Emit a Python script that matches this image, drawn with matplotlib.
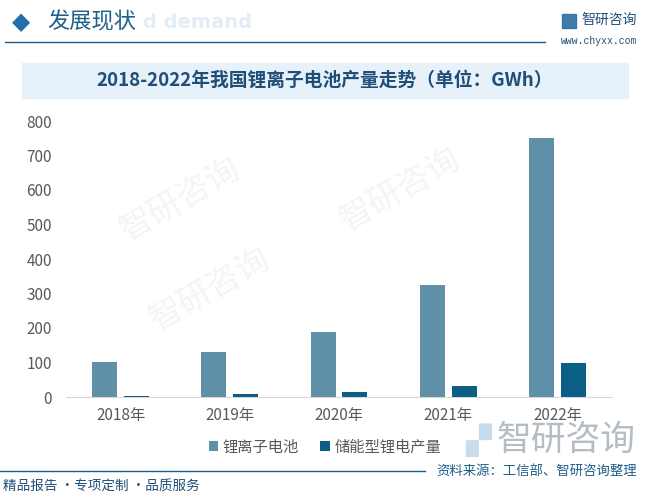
import matplotlib.pyplot as plt
from matplotlib.patches import Rectangle
import numpy as np

plt.rcParams['font.family'] = ['Noto Sans CJK SC', 'DejaVu Sans']

W, H = 646, 499

years = ['2018年', '2019年', '2020年', '2021年', '2022年']
li_ion = [102, 131.7, 188.5, 324, 750]
storage = [3, 9, 14, 32, 100]
series_names = ['锂离子电池', '储能型锂电产量']
yticks = [0, 100, 200, 300, 400, 500, 600, 700, 800]

LI_COLOR = '#5F90A8'
ST_COLOR = '#0B5E85'
DARK = '#1F4E79'


def fx(x):
    return x / W


def fy(y):
    return 1 - y / H


fig = plt.figure(figsize=(W / 100, H / 100), dpi=100)
fig.patch.set_facecolor('white')

# faint watermarks in empty areas
for (wx, wy) in [(180, 200), (400, 190), (210, 290)]:
    fig.text(fx(wx), fy(wy), '智研咨询', fontsize=24, color='#f2f5f8', rotation=30,
             ha='center', va='center', zorder=-1)

# header
fig.text(fx(143), fy(22), 'd demand', fontsize=14, color='#e2edf7',
         fontweight='bold', ha='left', va='center', family='DejaVu Sans')
fig.text(fx(21), fy(22), '◆', fontsize=17, color='#1F6FA8', ha='center', va='center',
         family='DejaVu Sans')
fig.text(fx(47), fy(22), '发展现状', fontsize=16, color='#1F5F8B', ha='left', va='center')
fig.add_artist(plt.Line2D([fx(5), fx(545)], [fy(42), fy(42)], color='#1F5F8B', lw=1))
fig.add_artist(Rectangle((fx(562), fy(28)), 14 / W, 14 / H, color='#2E6DA4', alpha=0.9))
fig.text(fx(581), fy(20), '智研咨询', fontsize=10, color=DARK, ha='left', va='center')
fig.text(fx(637), fy(41), 'www.chyxx.com', fontsize=7, color=DARK, ha='right', va='center',
         family='Liberation Mono')

# title box
fig.add_artist(Rectangle((fx(22), fy(98)), 606 / W, 35 / H, color='#E6F1F9', zorder=1))
fig.text(fx(325), fy(80), '2018-2022年我国锂离子电池产量走势（单位：GWh）', fontsize=13.5,
         fontweight='bold', color=DARK, ha='center', va='center', zorder=2)

# chart
ax = fig.add_axes([fx(66), fy(397), (612 - 66) / W, (397 - 121) / H])
ax.set_facecolor('none')
x = np.arange(len(years))
bw = 0.229
ax.bar(x - 0.145, li_ion, bw, color=LI_COLOR, label=series_names[0], zorder=3)
ax.bar(x + 0.145, storage, bw, color=ST_COLOR, label=series_names[1], zorder=3)
ax.set_xlim(-0.5, len(years) - 0.5)
ax.set_ylim(0, 800)
ax.set_yticks(yticks)
ax.set_xticks(x)
ax.set_xticklabels(years)
for s in ['top', 'right', 'left']:
    ax.spines[s].set_visible(False)
ax.spines['bottom'].set_color('#D9D9D9')
ax.tick_params(axis='both', length=0, labelsize=11, colors='#595959')
ax.tick_params(axis='y', pad=10)
ax.tick_params(axis='x', pad=7)

leg = fig.legend(loc='center', bbox_to_anchor=(fx(325), fy(447)), ncol=2, frameon=False,
                 fontsize=11, handlelength=0.6, handleheight=0.6, handletextpad=0.3,
                 columnspacing=1.4)
for t in leg.get_texts():
    t.set_color('#595959')

# footer
fig.text(fx(465), fy(440), '▞', fontsize=24, color='#C9DCEC', ha='left', va='center',
         family='DejaVu Sans')
fig.text(fx(497), fy(440), '智研咨询', fontsize=25, color='#B4BCC4', ha='left', va='center')
fig.add_artist(plt.Line2D([fx(0), fx(425)], [fy(471), fy(471)], color='#1F5F8B', lw=1))
fig.text(fx(637), fy(471), '资料来源：工信部、智研咨询整理', fontsize=9.6, color='#1F5F8B',
         ha='right', va='center')
fig.text(fx(3), fy(487), '精品报告 ·专项定制 ·品质服务', fontsize=9.8, color=DARK,
         ha='left', va='center')

fig.savefig('out.png', dpi=100)
